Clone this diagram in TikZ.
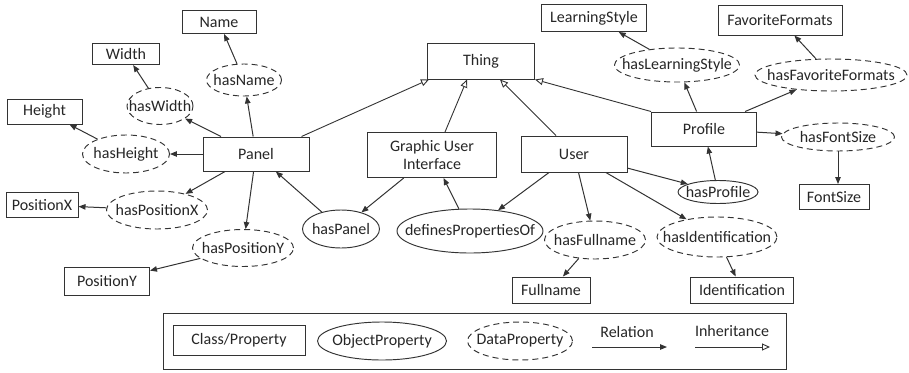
\documentclass[tikz,border=0pt]{standalone}
\usepackage{fontspec}
\setmainfont{Carlito}
\usetikzlibrary{shapes.geometric,arrows.meta}

\definecolor{linec}{HTML}{333333}
\definecolor{txtc}{HTML}{262626}

\tikzset{
  cls/.style={draw=linec, rectangle, inner sep=0pt, line width=1pt, text=txtc},
  % negative inner sep lets the given minimum size fix the ellipse exactly
  objp/.style={draw=linec, ellipse, inner xsep=-45pt, inner ysep=-12pt, line width=0.95pt, text=txtc},
  datp/.style={objp, dash pattern=on 6pt off 4pt},
  rel/.style={draw=linec, line width=1pt, -{Triangle[length=7pt,width=5.5pt]}},
  inh/.style={draw=linec, line width=0.9pt, -{Triangle[open,length=8pt,width=7pt]}},
}

\begin{document}
\begin{tikzpicture}[x=1pt,y=-1pt,font=\fontsize{16}{18}\selectfont]
\useasboundingbox (0,0) rectangle (909,372);

% classes
\node[cls, minimum width=107pt, minimum height=36pt] (Thing) at (481,61) {Thing};
\node[cls, minimum width=106pt, minimum height=34pt] (Panel) at (256,154) {Panel};
\node[cls, minimum width=129pt, minimum height=45pt, align=center] (GUI) at (432,155) {Graphic User\\Interface};
\node[cls, minimum width=106pt, minimum height=36pt] (User) at (574,154) {User};
\node[cls, minimum width=105pt, minimum height=34pt] (Profile) at (704,129) {Profile};

\node[cls, minimum width=74pt, minimum height=23pt] (Name) at (219,22) {Name};
\node[cls, minimum width=67pt, minimum height=21pt] (Width) at (126,54) {Width};
\node[cls, minimum width=75pt, minimum height=25pt] (Height) at (44.5,111.5) {Height};
\node[cls, minimum width=72pt, minimum height=25pt] (PositionX) at (42,205) {PositionX};
\node[cls, minimum width=85pt, minimum height=28pt] (PositionY) at (107,281) {PositionY};
\node[cls, minimum width=78pt, minimum height=26pt] (Fullname) at (551,290) {Fullname};
\node[cls, minimum width=103pt, minimum height=26pt] (Identification) at (742,290) {Identification};
\node[cls, minimum width=105pt, minimum height=27pt] (LearningStyle) at (594,18) {LearningStyle};
\node[cls, minimum width=124pt, minimum height=30pt] (FavoriteFormats) at (780,20) {FavoriteFormats};
\node[cls, minimum width=70pt, minimum height=25pt] (FontSize) at (834,197) {FontSize};

% object properties
\node[objp, minimum width=77pt, minimum height=38pt] (hasPanel) at (341,229) {hasPanel};
\node[objp, minimum width=146pt, minimum height=44pt] (defines) at (470,231) {definesPropertiesOf};
\node[objp, minimum width=80pt, minimum height=23pt] (hasProfile) at (718,192) {hasProfile};

% data properties
\node[datp, minimum width=75pt, minimum height=32pt] (hasName) at (244,80) {hasName};
\node[datp, minimum width=66pt, minimum height=37pt] (hasWidth) at (160,106) {hasWidth};
\node[datp, minimum width=87pt, minimum height=38pt] (hasHeight) at (126,154) {hasHeight};
\node[datp, minimum width=101pt, minimum height=38pt] (hasPositionX) at (157,210) {hasPositionX};
\node[datp, minimum width=101pt, minimum height=37pt] (hasPositionY) at (243,248) {hasPositionY};
\node[datp, minimum width=101pt, minimum height=38pt] (hasFullname) at (595,240) {hasFullname};
\node[datp, minimum width=120pt, minimum height=40pt] (hasIdentification) at (717,237) {hasIdentification};
\node[datp, minimum width=125pt, minimum height=34pt] (hasLearningStyle) at (677,65) {hasLearningStyle};
\node[datp, minimum width=152pt, minimum height=32pt] (hasFavoriteFormats) at (831,75) {hasFavoriteFormats};
\node[datp, minimum width=113pt, minimum height=28pt] (hasFontSize) at (838,137) {hasFontSize};

% inheritance
\draw[inh] ([xshift=-8pt]Panel.north east) -- ([xshift=2pt]Thing.south west);
\draw[inh] ([xshift=13pt]GUI.north) -- ([xshift=-14pt]Thing.south);
\draw[inh] ([xshift=-18pt]User.north) -- ([xshift=19pt]Thing.south);
\draw[inh] (Profile.north west) -- (Thing.south east);

% relations of Panel
\draw[rel] (Panel) -- (hasName);
\draw[rel] (hasName) -- (Name);
\draw[rel] (Panel) -- (hasWidth);
\draw[rel] (hasWidth) -- (Width);
\draw[rel] (Panel) -- (hasHeight);
\draw[rel] (hasHeight) -- (Height);
\draw[rel] (Panel) -- (hasPositionX);
\draw[rel] (hasPositionX) -- (PositionX);
\draw[rel] (Panel) -- (hasPositionY);
\draw[rel] (hasPositionY) -- (PositionY);

% relations of the interface and the user
\draw[rel] (hasPanel) -- (Panel);
\draw[rel] (GUI) -- (hasPanel);
\draw[rel] (defines) -- (GUI);
\draw[rel] (User) -- (defines);
\draw[rel] (User) -- (hasFullname);
\draw[rel] (hasFullname) -- (Fullname);
\draw[rel] (User) -- (hasIdentification);
\draw[rel] (hasIdentification) -- (Identification);
\draw[rel] (User) -- (hasProfile);
\draw[rel] (hasProfile) -- (Profile);

% relations of Profile
\draw[rel] (Profile) -- (hasLearningStyle);
\draw[rel] (hasLearningStyle) -- (LearningStyle);
\draw[rel] (Profile) -- (hasFavoriteFormats);
\draw[rel] (hasFavoriteFormats) -- (FavoriteFormats);
\draw[rel] (Profile) -- (hasFontSize);
\draw[rel] (hasFontSize.south) -- (hasFontSize.south |- FontSize.north);

% legend
\node[draw=linec, line width=1pt, minimum width=623pt, minimum height=56pt, inner sep=0pt] (legend) at (474.5,341) {};
\node[cls, minimum width=132pt, minimum height=30pt] (lgClass) at (239,340) {Class/Property};
\node[objp, minimum width=129pt, minimum height=38pt] (lgObj) at (382,341) {ObjectProperty};
\node[datp, minimum width=105pt, minimum height=38pt] (lgData) at (520,341) {DataProperty};
\node[text=txtc] (lgRel) at (627,332) {Relation};
\node[text=txtc] (lgInh) at (732,331) {Inheritance};
\coordinate (r1) at (592,347);
\coordinate (r2) at (667,347);
\coordinate (i1) at (695,347);
\coordinate (i2) at (770,347);
\draw[rel] (r1) -- (r2);
\draw[inh] (i1) -- (i2);
\end{tikzpicture}
\end{document}
